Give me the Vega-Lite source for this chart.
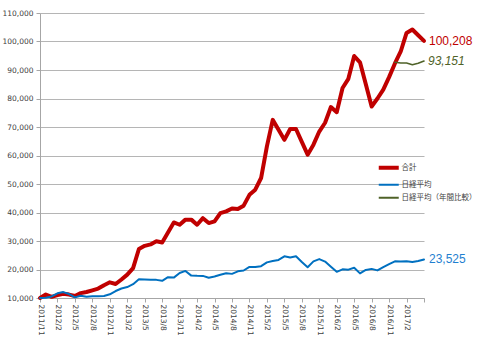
{
  "$schema": "https://vega.github.io/schema/vega-lite/v6.json",
  "width": 384,
  "height": 285,
  "autosize": {"type": "none"},
  "padding": {"left": 40, "top": 13, "right": 56, "bottom": 61},
  "background": "white",
  "config": {"view": {"stroke": null}, "font": "DejaVu Sans"},
  "data": {"values": [
    {"m": "2011/11", "a": 10000, "b": 10000},
    {"m": "2011/12", "a": 11200, "b": 10123},
    {"m": "2012/1", "a": 10400, "b": 10538},
    {"m": "2012/2", "a": 11000, "b": 11640},
    {"m": "2012/3", "a": 11500, "b": 12072},
    {"m": "2012/4", "a": 11200, "b": 11398},
    {"m": "2012/5", "a": 10700, "b": 10227},
    {"m": "2012/6", "a": 11700, "b": 10783},
    {"m": "2012/7", "a": 12100, "b": 10410},
    {"m": "2012/8", "a": 12700, "b": 10583},
    {"m": "2012/9", "a": 13300, "b": 10619},
    {"m": "2012/10", "a": 14500, "b": 10689},
    {"m": "2012/11", "a": 15500, "b": 11308},
    {"m": "2012/12", "a": 14900, "b": 12445},
    {"m": "2013/1", "a": 16500, "b": 13335},
    {"m": "2013/2", "a": 18200, "b": 13839},
    {"m": "2013/3", "a": 20500, "b": 14843},
    {"m": "2013/4", "a": 27200, "b": 16594},
    {"m": "2013/5", "a": 28300, "b": 16490},
    {"m": "2013/6", "a": 28800, "b": 16374},
    {"m": "2013/7", "a": 29900, "b": 16363},
    {"m": "2013/8", "a": 29500, "b": 16029},
    {"m": "2013/9", "a": 33000, "b": 17306},
    {"m": "2013/10", "a": 36500, "b": 17153},
    {"m": "2013/11", "a": 35700, "b": 18750},
    {"m": "2013/12", "a": 37500, "b": 19504},
    {"m": "2014/1", "a": 37500, "b": 17856},
    {"m": "2014/2", "a": 35700, "b": 17768},
    {"m": "2014/3", "a": 38000, "b": 17752},
    {"m": "2014/4", "a": 36300, "b": 17125},
    {"m": "2014/5", "a": 36900, "b": 17518},
    {"m": "2014/6", "a": 39800, "b": 18152},
    {"m": "2014/7", "a": 40400, "b": 18701},
    {"m": "2014/8", "a": 41400, "b": 18466},
    {"m": "2014/9", "a": 41200, "b": 19363},
    {"m": "2014/10", "a": 42400, "b": 19650},
    {"m": "2014/11", "a": 46200, "b": 20903},
    {"m": "2014/12", "a": 48000, "b": 20892},
    {"m": "2015/1", "a": 52100, "b": 21160},
    {"m": "2015/2", "a": 63200, "b": 22505},
    {"m": "2015/3", "a": 72500, "b": 22994},
    {"m": "2015/4", "a": 69000, "b": 23369},
    {"m": "2015/5", "a": 65500, "b": 24618},
    {"m": "2015/6", "a": 69300, "b": 24226},
    {"m": "2015/7", "a": 69300, "b": 24644},
    {"m": "2015/8", "a": 64800, "b": 22615},
    {"m": "2015/9", "a": 60300, "b": 20817},
    {"m": "2015/10", "a": 63800, "b": 22846},
    {"m": "2015/11", "a": 68400, "b": 23641},
    {"m": "2015/12", "a": 71500, "b": 22787},
    {"m": "2016/1", "a": 77000, "b": 20973},
    {"m": "2016/2", "a": 75200, "b": 19187},
    {"m": "2016/3", "a": 83700, "b": 20063},
    {"m": "2016/4", "a": 86900, "b": 19952},
    {"m": "2016/5", "a": 94900, "b": 20633},
    {"m": "2016/6", "a": 92700, "b": 18647},
    {"m": "2016/7", "a": 85000, "b": 19837},
    {"m": "2016/8", "a": 77200, "b": 20217},
    {"m": "2016/9", "a": 80000, "b": 19693},
    {"m": "2016/10", "a": 83100, "b": 20861},
    {"m": "2016/11", "a": 87500, "b": 21918},
    {"m": "2016/12", "a": 92300, "b": 22883, "c": 92700},
    {"m": "2017/1", "a": 96500, "b": 22796, "c": 92450},
    {"m": "2017/2", "a": 103000, "b": 22889, "c": 92450},
    {"m": "2017/3", "a": 104200, "b": 22638, "c": 91850},
    {"m": "2017/4", "a": 102200, "b": 22982, "c": 92400},
    {"m": "2017/5", "a": 100208, "b": 23525, "c": 93151}
  ]},
  "transform": [
    {"fold": ["a", "b", "c"], "as": ["k", "v"]},
    {"filter": "isValid(datum.v)"}
  ],
  "encoding": {
    "x": {
      "field": "m", "type": "ordinal",
      "scale": {"type": "point", "padding": 0, "domain": ["2011/11","2011/12","2012/1","2012/2","2012/3","2012/4","2012/5","2012/6","2012/7","2012/8","2012/9","2012/10","2012/11","2012/12","2013/1","2013/2","2013/3","2013/4","2013/5","2013/6","2013/7","2013/8","2013/9","2013/10","2013/11","2013/12","2014/1","2014/2","2014/3","2014/4","2014/5","2014/6","2014/7","2014/8","2014/9","2014/10","2014/11","2014/12","2015/1","2015/2","2015/3","2015/4","2015/5","2015/6","2015/7","2015/8","2015/9","2015/10","2015/11","2015/12","2016/1","2016/2","2016/3","2016/4","2016/5","2016/6","2016/7","2016/8","2016/9","2016/10","2016/11","2016/12","2017/1","2017/2","2017/3","2017/4","2017/5"]},
      "axis": {
        "values": ["2011/11","2012/2","2012/5","2012/8","2012/11","2013/2","2013/5","2013/8","2013/11","2014/2","2014/5","2014/8","2014/11","2015/2","2015/5","2015/8","2015/11","2016/2","2016/5","2016/8","2016/11","2017/2","2017/5"],
        "labelExpr": "datum.value == '2017/5' ? '' : datum.label",
        "labelAngle": 90, "title": null, "grid": false, "labelOverlap": false,
        "labelFont": "DejaVu Sans", "labelFontSize": 7.5, "labelColor": "#404040",
        "domainColor": "#a6a6a6", "tickColor": "#a6a6a6", "tickSize": 4, "labelPadding": 2
      }
    },
    "y": {
      "field": "v", "type": "quantitative",
      "scale": {"domain": [10000, 110000], "nice": false, "zero": false},
      "axis": {
        "values": [10000,20000,30000,40000,50000,60000,70000,80000,90000,100000,110000],
        "labelExpr": "format(datum.value, ',')",
        "labelOverlap": false, "title": null, "grid": true, "gridColor": "#b5b5b5",
        "labelFont": "DejaVu Sans", "labelFontSize": 7.5, "labelColor": "#404040",
        "domainColor": "#a6a6a6", "tickColor": "#a6a6a6", "tickSize": 4, "labelPadding": 3
      }
    }
  },
  "layer": [
    {
      "mark": {"type": "line", "strokeJoin": "round", "strokeCap": "round"},
      "encoding": {
        "color": {
          "field": "k", "type": "nominal",
          "scale": {"domain": ["a", "b", "c"], "range": ["#C00000", "#0070C0", "#4F6228"]},
          "legend": {
            "title": null, "orient": "none", "legendX": 345, "legendY": 151,
            "symbolType": "stroke", "symbolSize": 400, "padding": 0, "rowPadding": 4,
            "labelFont": "Noto Sans CJK JP", "labelFontSize": 7.5, "labelColor": "#404040",
            "labelLimit": 200, "labelOffset": 9,
            "labelExpr": "datum.label == 'a' ? '合計' : datum.label == 'b' ? '日経平均' : '日経平均（年間比較）'",
            "encode": {"symbols": {"update": {"strokeWidth": {"signal": "datum.value == 'a' ? 4 : 2"}}}}
          }
        },
        "strokeWidth": {
          "condition": [
            {"test": "datum.k == 'a'", "value": 4},
            {"test": "datum.k == 'c'", "value": 1.6}
          ],
          "value": 2
        }
      }
    },
    {
      "transform": [{"filter": "datum.m == '2017/5' && datum.k == 'a'"}],
      "mark": {"type": "text", "align": "left", "baseline": "middle", "dx": 5, "font": "Liberation Sans", "fontSize": 12, "color": "#C00000"},
      "encoding": {"text": {"field": "v", "type": "quantitative", "format": ","}}
    },
    {
      "transform": [{"filter": "datum.m == '2017/5' && datum.k == 'b'"}],
      "mark": {"type": "text", "align": "left", "baseline": "middle", "dx": 5, "font": "Liberation Sans", "fontSize": 12, "color": "#1F7FD0"},
      "encoding": {"text": {"field": "v", "type": "quantitative", "format": ","}}
    },
    {
      "transform": [{"filter": "datum.m == '2017/5' && datum.k == 'c'"}],
      "mark": {"type": "text", "align": "left", "baseline": "middle", "dx": 4, "font": "Liberation Sans", "fontSize": 12, "fontStyle": "italic", "color": "#4F6228"},
      "encoding": {"text": {"field": "v", "type": "quantitative", "format": ","}}
    }
  ]
}
